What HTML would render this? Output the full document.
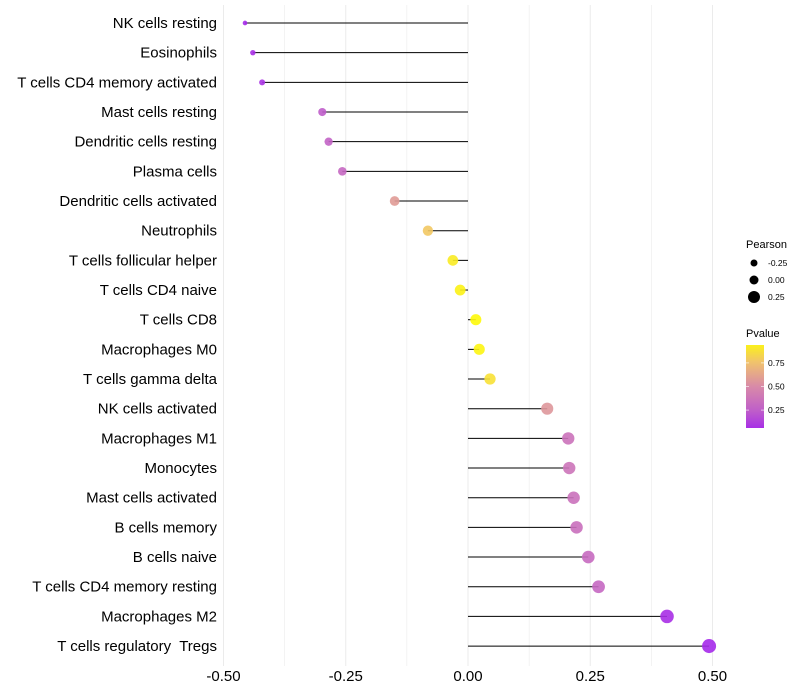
<!DOCTYPE html>
<html><head><meta charset="utf-8"><style>
body{margin:0;background:#fff;font-family:"Liberation Sans",sans-serif;}
svg{display:block}
text{white-space:pre}
</style></head><body>
<svg id="chart" width="800" height="700" xmlns="http://www.w3.org/2000/svg"></svg>
<script>
const categories=["NK cells resting","Eosinophils","T cells CD4 memory activated","Mast cells resting","Dendritic cells resting","Plasma cells","Dendritic cells activated","Neutrophils","T cells follicular helper","T cells CD4 naive","T cells CD8","Macrophages M0","T cells gamma delta","NK cells activated","Macrophages M1","Monocytes","Mast cells activated","B cells memory","B cells naive","T cells CD4 memory resting","Macrophages M2","T cells regulatory  Tregs"];
const pearson=[-0.456,-0.44,-0.421,-0.298,-0.285,-0.257,-0.15,-0.082,-0.031,-0.016,0.016,0.023,0.045,0.162,0.205,0.207,0.216,0.222,0.246,0.267,0.407,0.493];
const pvalue=[0.04,0.06,0.08,0.24,0.27,0.3,0.58,0.78,0.92,0.95,0.98,0.96,0.88,0.56,0.36,0.37,0.35,0.34,0.31,0.3,0.06,0.04];
const xTicks=[-0.5,-0.25,0,0.25,0.5];
const xTickLabels=["-0.50","-0.25","0.00","0.25","0.50"];
const sizeLegend=[-0.25,0,0.25];
const colorLegend=[0.25,0.5,0.75];

const svg=document.getElementById('chart');
const NS="http://www.w3.org/2000/svg";
const X=v=>468+v*489;
const Y=i=>23+i*29.67;
const R=v=>2+5*Math.sqrt(Math.max(0,(v+0.46)/0.95));
const stops=[[0,[160,32,240]],[0.25,[192,96,200]],[0.5,[216,138,168]],[0.75,[240,192,112]],[1,[255,255,0]]];
function col(p){for(let k=1;k<stops.length;k++){if(p<=stops[k][0]){const a=stops[k-1],b=stops[k],t=(p-a[0])/(b[0]-a[0]);return 'rgb('+a[1].map((c,j)=>Math.round(c+(b[1][j]-c)*t)).join(',')+')';}}return 'rgb(255,255,0)';}
function el(t,a,txt){const e=document.createElementNS(NS,t);for(const k in a)e.setAttribute(k,a[k]);if(txt!=null)e.textContent=txt;svg.appendChild(e);return e;}

[-0.5,-0.375,-0.25,-0.125,0,0.125,0.25,0.375,0.5].forEach(v=>{
 const g=el('line',{x1:X(v),x2:X(v),y1:5,y2:666,stroke:'#ebebeb','stroke-width':Number.isInteger(v*4)?1:0.6});
 
 
});
xTicks.forEach((v,i)=>{
 const t=el('text',{x:X(v),y:681,'text-anchor':'middle','font-size':15,fill:'#000'},xTickLabels[i]);
 
 
});
categories.forEach((c,i)=>{
 const y=Y(i);
 const t=el('text',{x:217,y:y+5,'text-anchor':'end','font-size':15,fill:'#000'},c);
 
 
 const l=el('line',{x1:X(0),x2:X(pearson[i]),y1:y,y2:y,stroke:'#000','stroke-width':1});
 
 
 const d=el('circle',{cx:X(pearson[i]),cy:y,r:R(pearson[i]),fill:col(pvalue[i]),'fill-opacity':0.9});
 
 
});
const lt=el('text',{x:746,y:248,'font-size':11},'Pearson');


const legR=[3.5,4.5,6];
sizeLegend.forEach((v,i)=>{
 const y=263+i*17;
 const c=el('circle',{cx:754,cy:y,r:legR[i],fill:'#000'});
 
 
 const t=el('text',{x:768,y:y+3,'font-size':8.5},v.toFixed(2));
 
 
});
const pt=el('text',{x:746,y:337,'font-size':11},'Pvalue');


const defs=el('defs',{});
const lg=document.createElementNS(NS,'linearGradient');
lg.setAttribute('id','pg');lg.setAttribute('x1','0');lg.setAttribute('y1','1');lg.setAttribute('x2','0');lg.setAttribute('y2','0');
for(let k=0;k<=10;k++){const s=document.createElementNS(NS,'stop');s.setAttribute('offset',k/10);s.setAttribute('stop-color',col(0.06+0.88*k/10));lg.appendChild(s);}
defs.appendChild(lg);
const bar=el('rect',{x:746,y:345,width:18,height:83,fill:'url(#pg)'});


colorLegend.forEach(v=>{
 const y=345+(0.94-v)/0.88*83;
 const t=el('text',{x:768,y:y+3,'font-size':8.5},v.toFixed(2));
 
 
 el('line',{x1:746,x2:749,y1:y,y2:y,stroke:'#fff','stroke-width':0.6});
 el('line',{x1:761,x2:764,y1:y,y2:y,stroke:'#fff','stroke-width':0.6});
});
</script>
</body></html>
